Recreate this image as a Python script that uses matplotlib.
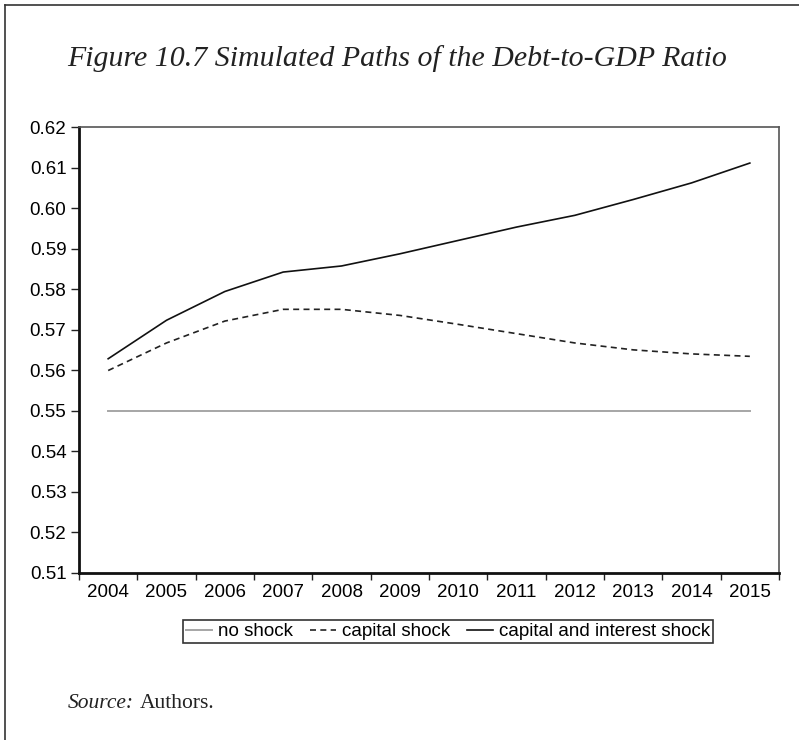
import numpy as np
import matplotlib
matplotlib.use("Agg")
from matplotlib import pyplot as plt
from matplotlib.lines import Line2D

years = ['2004', '2005', '2006', '2007', '2008', '2009',
         '2010', '2011', '2012', '2013', '2014', '2015']
no_shock = [0.55] * 12
capital_shock = [0.5599, 0.5667, 0.5721, 0.5750, 0.5750, 0.5735,
                 0.5713, 0.5690, 0.5667, 0.5650, 0.5640, 0.5634]
capital_interest_shock = [0.5628, 0.5723, 0.5794, 0.5842, 0.5857, 0.5887,
                          0.5920, 0.5953, 0.5982, 0.6021, 0.6062, 0.6111]
y_ticks = [0.51, 0.52, 0.53, 0.54, 0.55, 0.56, 0.57, 0.58, 0.59, 0.60, 0.61, 0.62]
y_labels = ['0.51', '0.52', '0.53', '0.54', '0.55', '0.56',
            '0.57', '0.58', '0.59', '0.60', '0.61', '0.62']

W, H = 799, 740
fig = plt.figure(figsize=(W / 100, H / 100), dpi=100)

# outer frame (left and top edges only)
fig.add_artist(Line2D([5 / W, 5 / W], [0, 1 - 5 / H], color='#333333', lw=1.2))
fig.add_artist(Line2D([5 / W, 1], [1 - 5 / H, 1 - 5 / H], color='#333333', lw=1.2))

ax = fig.add_axes([79 / W, 1 - 572.7 / H, 700 / W, 445.7 / H])
x = np.arange(len(years))

ax.plot(x, no_shock, color='#a6a6a6', lw=1.4, label='no shock')
ax.plot(x, capital_shock, color='#222222', lw=1.2, dashes=(3.6, 2.6), label='capital shock')
ax.plot(x, capital_interest_shock, color='#111111', lw=1.2, label='capital and interest shock')

ax.set_xlim(-0.5, len(years) - 0.5)
ax.set_ylim(0.51, 0.62)
ax.set_yticks(y_ticks)
ax.set_yticklabels(y_labels, family='Liberation Sans', fontsize=13.5)
ax.set_xticks(x)
ax.set_xticklabels(years, family='Liberation Sans', fontsize=13.5)
ax.set_xticks(np.arange(-0.5, len(years)), minor=True)
ax.tick_params(axis='x', which='major', length=0, pad=8)
ax.tick_params(axis='x', which='minor', length=5, width=1, direction='out', color='#222222')
ax.tick_params(axis='y', length=6, width=1, direction='out', pad=3, color='#222222')

for side in ['left', 'bottom']:
    ax.spines[side].set_linewidth(2)
    ax.spines[side].set_color('#111111')
for side in ['top', 'right']:
    ax.spines[side].set_linewidth(1.2)
    ax.spines[side].set_color('#555555')

leg = fig.legend(loc='center', bbox_to_anchor=(448 / W, 1 - 631.5 / H), ncol=3,
                 prop={'family': 'Liberation Sans', 'size': 13.5},
                 handlelength=1.4, handletextpad=0.3, columnspacing=0.9,
                 borderpad=0.15, fancybox=False, framealpha=1, edgecolor='#333333')
leg.get_frame().set_linewidth(1.2)

fig.text(397 / W, 1 - 66 / H, 'Figure 10.7 Simulated Paths of the Debt-to-GDP Ratio',
         ha='center', va='baseline', family='Liberation Serif', style='italic',
         fontsize=21.5, color='#222222')
fig.text(68 / W, 1 - 708 / H, 'Source:', ha='left', va='baseline',
         family='Liberation Serif', style='italic', fontsize=15.5, color='#222222')
fig.text(140 / W, 1 - 708 / H, 'Authors.', ha='left', va='baseline',
         family='Liberation Serif', fontsize=15.5, color='#222222')

fig.savefig('out.png', dpi=100)
